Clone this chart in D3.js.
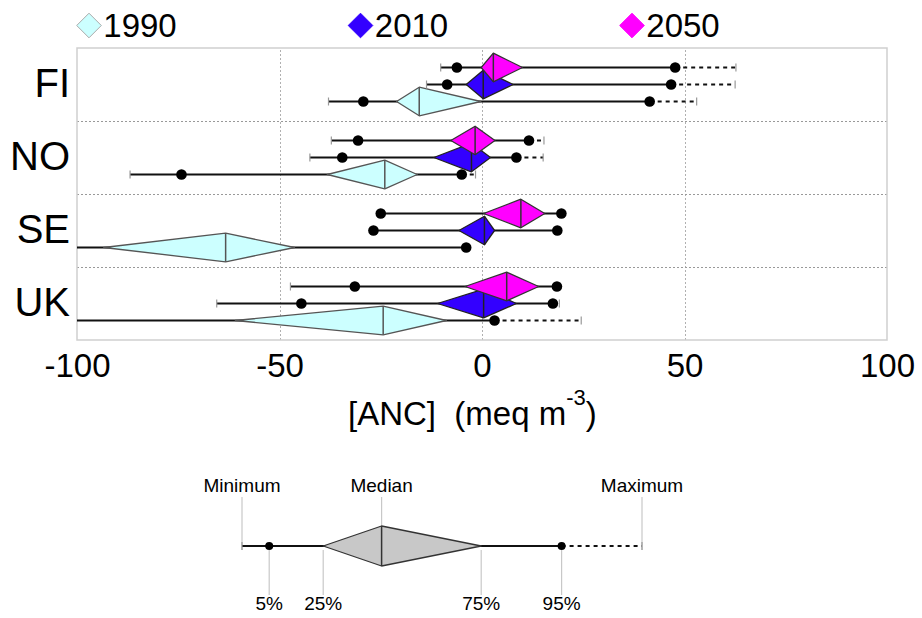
<html>
  <head><meta charset="utf-8"></head>
  <body style="margin:0;background:#fff;">
    <style>
      text { font-family: "Liberation Sans", Arial, sans-serif; fill: #000; }
      .gridV line { stroke: #b0b0b0; stroke-dasharray: 2,2; shape-rendering: crispEdges; }
      .gridV path { stroke-width: 0; }
      .band { stroke: #999; stroke-dasharray: 2,2; shape-rendering: crispEdges; }
      .frame { fill: none; stroke: #cfcfcf; stroke-width: 1.5; }
      .whisker { stroke: #111; stroke-width: 2.2; fill: none; }
      .dotted { stroke: #111; stroke-width: 2.2; stroke-dasharray: 4,4; fill: none; }
      .endtick { stroke: #999; stroke-width: 1.2; }
      .leader { stroke: #c8c8c8; stroke-width: 1.2; }
    </style>
    <script src="https://cdnjs.cloudflare.com/ajax/libs/d3/7.8.5/d3.min.js"></script>
    <script type="text/javascript">
      // countries and scenario years
      var countries = ["FI", "NO", "SE", "UK"];
      var years = ["1990", "2010", "2050"];
      var xTicks = [-100, -50, 0, 50, 100];

      // [min, 5%, 25%, median, 75%, 95%, max] in meq m-3
      var fi1990 = [-37.9, -29.3, -21.1, -15.5, -0.3, 41.4, 53.0];
      var fi2010 = [-13.7, -8.6, -3.9, 0.3, 7.7, 46.7, 62.5];
      var fi2050 = [-10.2, -6.2, -0.2, 2.8, 10.0, 47.7, 62.7];
      var no1990 = [-86.9, -74.2, -38.2, -24.0, -16.0, -5.0, -1.6];
      var no2010 = [-42.5, -34.5, -11.9, -2.6, 2.1, 8.5, 15.1];
      var no2050 = [-37.2, -30.6, -7.7, -1.7, 3.2, 11.6, 15.3];
      var se1990 = [-125, -108, -93.4, -63.3, -46.3, -3.9, -3.9];
      var se2010 = [-26.8, -26.8, -5.7, 0.6, 3.1, 18.6, 18.6];
      var se2050 = [-25.0, -25.0, 0.4, 9.6, 15.5, 19.6, 19.6];
      var uk1990 = [-120, -106, -60.9, -24.4, -8.8, 3.1, 24.5];
      var uk2010 = [-65.5, -44.6, -11.0, 0.4, 8.5, 17.5, 19.1];
      var uk2050 = [-47.3, -31.4, -4.2, 6.1, 14.0, 18.5, 18.5];

      // key (explanation) box values and labels
      var keyValues = [0, 6.8, 20.3, 34.9, 59.8, 79.9, 100];
      var keyTopLabels = ["Minimum", null, null, "Median", null, null, "Maximum"];
      var keyBottomLabels = [null, "5%", "25%", null, "75%", "95%", null];

      function autorun() {
        var stats = {
          FI: [fi1990, fi2010, fi2050],
          NO: [no1990, no2010, no2050],
          SE: [se1990, se2010, se2050],
          UK: [uk1990, uk2010, uk2050]
        };
        var fills = {"1990": "#ccffff", "2010": "#3300ff", "2050": "#ff00ff"};
        var strokes = {"1990": "#555555", "2010": "#222222", "2050": "#333333"};
        var legendStroke = {"1990": "#aaaaaa", "2010": "#3300ff", "2050": "#ff00ff"};

        var W = 922, H = 618;
        var margin = {top: 48, right: 35, bottom: 278, left: 77};
        var width = W - margin.left - margin.right,
          height = H - margin.top - margin.bottom;

        var svg = d3.select("body").append("svg")
          .attr("width", W).attr("height", H);

        var g = svg.append("g")
          .attr("transform", "translate(" + margin.left + "," + margin.top + ")");

        var x = d3.scaleLinear().domain([-100, 100]).range([0, width]);
        var y = d3.scaleBand().domain(countries).range([0, height]);
        var row = d3.scalePoint().domain(years.slice().reverse()).range([-17, 17]);

        svg.append("defs").append("clipPath").attr("id", "plotclip")
          .append("rect").attr("width", width).attr("height", height);

        // vertical gridlines
        g.append("g")
          .attr("class", "gridV")
          .attr("transform", "translate(0," + height + ")")
          .call(d3.axisBottom(x)
            .tickValues([-50, 0, 50])
            .tickSize(-height)
            .tickFormat("")
          );

        // band separators
        g.selectAll(".band")
          .data(countries.slice(1))
          .enter().append("line")
          .attr("class", "band")
          .attr("x1", 0).attr("x2", width)
          .attr("y1", function(d) { return y(d); })
          .attr("y2", function(d) { return y(d); });

        g.append("rect").attr("class", "frame")
          .attr("width", width).attr("height", height);

        var marks = g.append("g").attr("clip-path", "url(#plotclip)");

        function drawBox(sel, s, xs, cy, h, r, fill, stroke) {
          // solid whisker min..95%, dotted 95%..max
          sel.append("line").attr("class", "whisker")
            .attr("x1", xs(s[0])).attr("x2", xs(s[5]))
            .attr("y1", cy).attr("y2", cy);
          if (s[6] > s[5]) {
            sel.append("line").attr("class", "dotted")
              .attr("x1", xs(s[5])).attr("x2", xs(s[6]))
              .attr("y1", cy).attr("y2", cy);
          }
          if (s[0] < s[1]) {
            sel.append("line").attr("class", "endtick")
              .attr("x1", xs(s[0])).attr("x2", xs(s[0]))
              .attr("y1", cy - 4).attr("y2", cy + 4);
          }
          if (s[6] > s[5]) {
            sel.append("line").attr("class", "endtick")
              .attr("x1", xs(s[6])).attr("x2", xs(s[6]))
              .attr("y1", cy - 4).attr("y2", cy + 4);
          }
          sel.selectAll(".pct").data([s[1], s[5]]).enter()
            .append("circle")
            .attr("cx", function(d) { return xs(d); })
            .attr("cy", cy).attr("r", r).attr("fill", "#000");
          sel.append("path")
            .attr("d", "M" + xs(s[2]) + "," + cy + "L" + xs(s[3]) + "," + (cy - h) +
              "L" + xs(s[4]) + "," + cy + "L" + xs(s[3]) + "," + (cy + h) + "Z")
            .attr("fill", fill).attr("stroke", stroke).attr("stroke-width", 1.3)
            .attr("stroke-linejoin", "round");
          sel.append("line")
            .attr("x1", xs(s[3])).attr("x2", xs(s[3]))
            .attr("y1", cy - h).attr("y2", cy + h)
            .attr("stroke", stroke).attr("stroke-width", 1.5);
        }

        countries.forEach(function(c) {
          years.forEach(function(yr, i) {
            var cy = y(c) + y.bandwidth() / 2 + row(yr);
            drawBox(marks.append("g"), stats[c][i], x, cy, 14.3, 5.3, fills[yr], strokes[yr]);
          });
        });

        // x axis labels
        var xa = g.append("g")
          .attr("transform", "translate(0," + height + ")")
          .call(d3.axisBottom(x)
            .tickValues(xTicks)
            .tickSize(0)
            .tickPadding(13.5)
            .tickFormat(function(d) { return String(d); })
          );
        xa.select(".domain").remove();
        xa.selectAll("text")
          .style("font-size", "33px")
          .style("font-family", "'Liberation Sans', Arial, sans-serif");

        // category labels
        var ya = g.append("g")
          .call(d3.axisLeft(y).tickSize(0).tickPadding(7));
        ya.select(".domain").remove();
        ya.selectAll("text")
          .style("font-size", "40px")
          .style("font-family", "'Liberation Sans', Arial, sans-serif");

        // axis title
        var title = svg.append("text")
          .attr("x", 348).attr("y", 425)
          .style("font-size", "33px")
          .style("white-space", "pre");
        title.append("tspan").text("[ANC]  (meq m");
        title.append("tspan").text("-3").style("font-size", "22px").attr("dy", -20);
        title.append("tspan").text(")").attr("dy", 20);

        // legend
        var lg = svg.append("g");
        years.forEach(function(yr, i) {
          var cx = 89 + i * 271.5, cy = 25.5, r = 12.3;
          lg.append("path")
            .attr("d", "M" + (cx - r) + "," + cy + "L" + cx + "," + (cy - r) +
              "L" + (cx + r) + "," + cy + "L" + cx + "," + (cy + r) + "Z")
            .attr("fill", fills[yr]).attr("stroke", legendStroke[yr]).attr("stroke-width", 1);
          lg.append("text")
            .attr("x", cx + r + 2).attr("y", 37)
            .style("font-size", "33px")
            .text(yr);
        });

        // key
        var kx = d3.scaleLinear().domain([0, 100]).range([242, 642]);
        var ky = 546;
        var key = svg.append("g");
        keyValues.forEach(function(v, i) {
          if (keyTopLabels[i]) {
            var bottom = i === 3 ? ky - 20 : ky + 4;
            key.append("line").attr("class", "leader")
              .attr("x1", kx(v)).attr("x2", kx(v))
              .attr("y1", 497).attr("y2", bottom);
            key.append("text")
              .attr("x", kx(v)).attr("y", 492)
              .attr("text-anchor", "middle")
              .style("font-size", "19px")
              .text(keyTopLabels[i]);
          }
          if (keyBottomLabels[i]) {
            key.append("line").attr("class", "leader")
              .attr("x1", kx(v)).attr("x2", kx(v))
              .attr("y1", ky + 4).attr("y2", 595);
            key.append("text")
              .attr("x", kx(v)).attr("y", 610)
              .attr("text-anchor", "middle")
              .style("font-size", "19px")
              .text(keyBottomLabels[i]);
          }
        });
        drawBox(key.append("g"), keyValues, kx, ky, 20, 4, "#c8c8c8", "#333333");
      }
      if (window.addEventListener) window.addEventListener("load", autorun, false);
      else window.onload = autorun;
    </script>
  </body>
</html>
